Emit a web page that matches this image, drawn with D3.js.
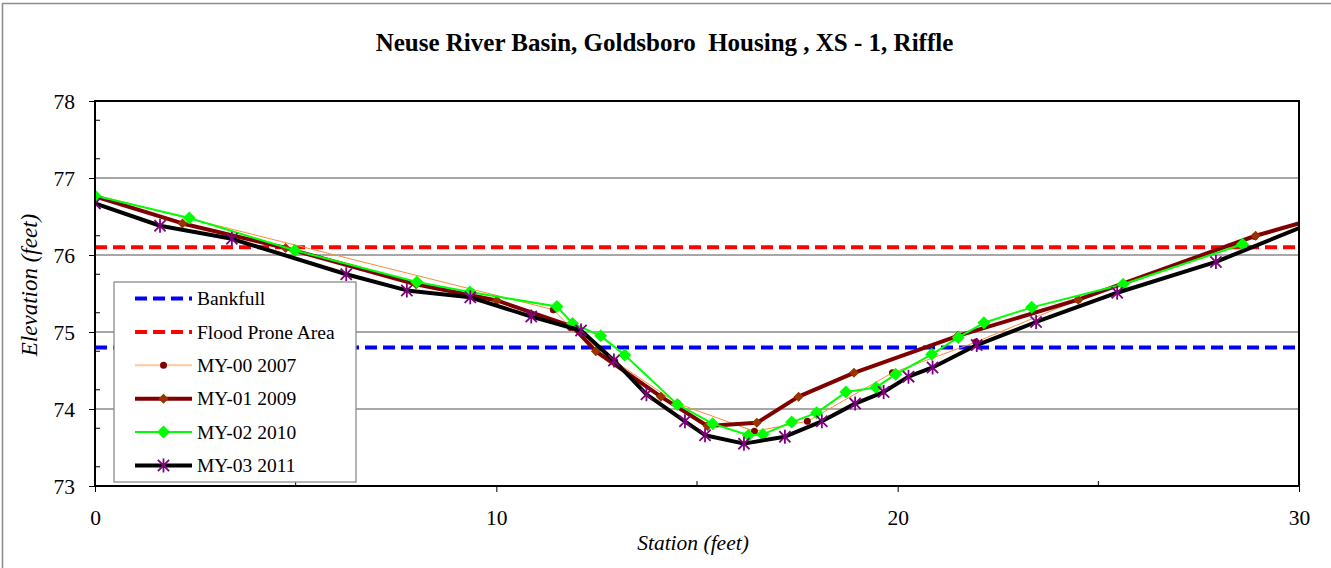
<!DOCTYPE html>
<html><head><meta charset="utf-8">
<script src="https://cdn.jsdelivr.net/npm/d3@7"></script>
<style>body{margin:0;background:#fff}svg{display:block}svg text{font-family:"Liberation Serif","Times New Roman",Times,serif}</style>
</head><body><svg id="c" width="1331" height="568"></svg>
<script>
const titleText = "Neuse River Basin, Goldsboro  Housing , XS - 1, Riffle";
const xLabel = "Station (feet)";
const yLabel = "Elevation (feet)";
const xTicks = [0, 10, 20, 30];
const xMinorTicks = [5, 15, 25];
const yTicks = [73, 74, 75, 76, 77, 78];
const yMinorTicks = [73.25, 73.75, 74.25, 74.75, 75.25, 75.75, 76.25, 76.75, 77.25, 77.75];
const bankfullElev = 74.8;
const floodProneElev = 76.1;

const my00Station = [0, 11.42, 11.85, 12.95, 14.52, 16.43, 17.75, 19.87, 21.95, 24.5, 28.9, 31];
const my00Elev    = [76.78, 75.29, 75.06, 74.62, 74.07, 73.71, 73.84, 74.47, 74.87, 75.42, 76.24, 76.56];

const my01Station = [0, 2.18, 4.75, 8.0, 10.01, 11.9, 12.48, 14.1, 15.26, 16.49, 17.53, 18.91, 21.5, 24.5, 28.92, 31];
const my01Elev    = [76.76, 76.41, 76.09, 75.62, 75.41, 75.07, 74.75, 74.16, 73.78, 73.82, 74.16, 74.47, 74.95, 75.42, 76.25, 76.56];

const my02Station = [0, 2.35, 4.98, 8.02, 9.34, 11.51, 11.9, 12.6, 13.2, 14.51, 15.39, 16.28, 16.64, 17.36, 17.98, 18.71, 19.46, 19.95, 20.85, 21.51, 22.15, 23.34, 25.62, 28.59];
const my02Elev    = [76.77, 76.48, 76.06, 75.65, 75.52, 75.33, 75.11, 74.95, 74.70, 74.06, 73.81, 73.66, 73.67, 73.83, 73.95, 74.22, 74.28, 74.45, 74.71, 74.93, 75.12, 75.32, 75.62, 76.14];

const my03Station = [0, 1.62, 3.41, 6.26, 7.77, 9.35, 10.87, 12.11, 12.93, 13.74, 14.70, 15.2, 16.17, 17.19, 18.11, 18.94, 19.65, 20.27, 20.87, 21.97, 23.45, 25.47, 27.93, 31];
const my03Elev    = [76.67, 76.38, 76.21, 75.75, 75.54, 75.45, 75.2, 75.02, 74.63, 74.19, 73.84, 73.66, 73.55, 73.64, 73.84, 74.07, 74.22, 74.42, 74.54, 74.83, 75.13, 75.51, 75.91, 76.56];

const legendNames = ["Bankfull", "Flood Prone Area", "MY-00 2007", "MY-01 2009", "MY-02 2010", "MY-03 2011"];

const svg = d3.select("#c");
const W = 1331, H = 568;
const L = 95, R = 1299, T = 101, B = 486;
const x = d3.scaleLinear().domain([0, 30]).range([L, R]);
const y = d3.scaleLinear().domain([73, 78]).range([B, T]);

svg.append("rect").attr("width", W).attr("height", H).attr("fill", "#fff");
svg.append("rect").attr("x", 2.5).attr("y", 3.5).attr("width", 1340).attr("height", 600)
  .attr("fill", "none").attr("stroke", "#8c8c8c").attr("stroke-width", 1.5);

svg.append("text").attr("x", 664.5).attr("y", 51).attr("text-anchor", "middle")
  .style("font-weight", "bold").style("font-size", "25px")
  .style("white-space", "pre").text(titleText);

svg.append("g").selectAll("line").data(yTicks.filter(v => v > 73 && v < 78)).join("line")
  .attr("x1", L).attr("x2", R).attr("y1", d => y(d)).attr("y2", d => y(d))
  .attr("stroke", "#8a8a8a").attr("stroke-width", 1.3);

const yAxis = svg.append("g").attr("transform", `translate(${L},0)`)
  .call(d3.axisLeft(y).tickValues(yTicks).tickSize(6).tickFormat(d3.format("d")));
const xAxis = svg.append("g").attr("transform", `translate(0,${B})`)
  .call(d3.axisBottom(x).tickValues(xTicks).tickSize(6).tickFormat(d3.format("d")));
[yAxis, xAxis].forEach(g => {
  g.attr("font-family", null).attr("font-size", null);
  g.select(".domain").remove();
  g.selectAll("line").attr("stroke", "#000").attr("stroke-width", 1);
  g.selectAll("text").style("font-size", "21.5px").attr("fill", "#000");
});
yAxis.selectAll("text").attr("x", -20).attr("dy", "0.34em");
xAxis.selectAll("text").attr("y", 24).attr("dy", "0.71em");
svg.append("g").selectAll("line").data(yMinorTicks).join("line")
  .attr("x1", L).attr("x2", L + 5).attr("y1", d => y(d)).attr("y2", d => y(d))
  .attr("stroke", "#000").attr("stroke-width", 1);
svg.append("g").selectAll("line").data(xMinorTicks).join("line")
  .attr("x1", d => x(d)).attr("x2", d => x(d)).attr("y1", B).attr("y2", B - 5)
  .attr("stroke", "#000").attr("stroke-width", 1);

svg.append("text").attr("x", 693).attr("y", 550).attr("text-anchor", "middle")
  .style("font-style", "italic").style("font-size", "21.5px").text(xLabel);
svg.append("text").attr("transform", "translate(37,285) rotate(-90)").attr("text-anchor", "middle")
  .style("font-style", "italic").style("font-size", "23px").text(yLabel);

svg.append("clipPath").attr("id", "pc").append("rect")
  .attr("x", L).attr("y", T).attr("width", R - L).attr("height", B - T);
const plot = svg.append("g").attr("clip-path", "url(#pc)");

const refLine = (v, color) => plot.append("line")
  .attr("x1", x(0)).attr("x2", x(30)).attr("y1", y(v)).attr("y2", y(v))
  .attr("stroke", color).attr("stroke-width", 4).attr("stroke-dasharray", "12,6");
refLine(bankfullElev, "#0000ff");
refLine(floodProneElev, "#ff0000");

const line = d3.line().x(d => x(d[0])).y(d => y(d[1]));
const zip = (a, b) => a.map((v, i) => [v, b[i]]);

function diamond(g, cx, cy, r, fill) {
  g.append("path").attr("d", `M${cx},${cy - r}L${cx + r},${cy}L${cx},${cy + r}L${cx - r},${cy}Z`)
    .attr("fill", fill);
}
function circle(g, cx, cy, r, fill) {
  g.append("circle").attr("cx", cx).attr("cy", cy).attr("r", r).attr("fill", fill);
}
function star(g, cx, cy, r, color) {
  const a = r * 0.8;
  g.append("path").attr("d",
    `M${cx - a},${cy - a}L${cx + a},${cy + a}M${cx - a},${cy + a}L${cx + a},${cy - a}M${cx},${cy - r}L${cx},${cy + r}`)
    .attr("stroke", color).attr("stroke-width", 1.8).attr("fill", "none");
}

const series = [
  { st: my00Station, el: my00Elev, color: "#ff8c3a", w: 1, mk: (g, cx, cy) => circle(g, cx, cy, 3.5, "#800000"), legendColor: "#ffc99a" },
  { st: my01Station, el: my01Elev, color: "#800000", w: 4, mk: (g, cx, cy) => diamond(g, cx, cy, 5, "#993300"), legendColor: "#800000" },
  { st: my02Station, el: my02Elev, color: "#00ff00", w: 2, mk: (g, cx, cy) => diamond(g, cx, cy, 6.5, "#00ff00"), legendColor: "#00ff00" },
  { st: my03Station, el: my03Elev, color: "#000000", w: 4, mk: (g, cx, cy) => star(g, cx, cy, 7, "#800080"), legendColor: "#000000" }
];
series.forEach(s => {
  const pts = zip(s.st, s.el);
  plot.append("path").datum(pts).attr("d", line).attr("fill", "none")
    .attr("stroke", s.color).attr("stroke-width", s.w).attr("stroke-linejoin", "round");
  const mg = plot.append("g");
  pts.filter(p => p[0] <= 30).forEach(p => s.mk(mg, x(p[0]), y(p[1])));
});

svg.append("rect").attr("x", L).attr("y", T).attr("width", R - L).attr("height", B - T)
  .attr("fill", "none").attr("stroke", "#000").attr("stroke-width", 2);

const lg = svg.append("g");
lg.append("rect").attr("x", 114).attr("y", 282).attr("width", 242).attr("height", 200)
  .attr("fill", "#fff").attr("stroke", "#8c8c8c").attr("stroke-width", 1.3);
const ly0 = 298.5, ldy = 33.4;
legendNames.forEach((name, i) => {
  const cy = ly0 + i * ldy;
  if (i < 2) {
    lg.append("line").attr("x1", 135).attr("x2", 192).attr("y1", cy).attr("y2", cy)
      .attr("stroke", i === 0 ? "#0000ff" : "#ff0000").attr("stroke-width", 4).attr("stroke-dasharray", "12,6");
  } else {
    const s = series[i - 2];
    lg.append("line").attr("x1", 135).attr("x2", 192).attr("y1", cy).attr("y2", cy)
      .attr("stroke", s.legendColor).attr("stroke-width", s.w === 1 ? 2 : s.w);
    s.mk(lg, 163.5, cy);
  }
  lg.append("text").attr("x", 197).attr("y", cy).attr("dy", "0.34em")
    .style("font-size", "19.5px").text(name);
});
</script></body></html>
